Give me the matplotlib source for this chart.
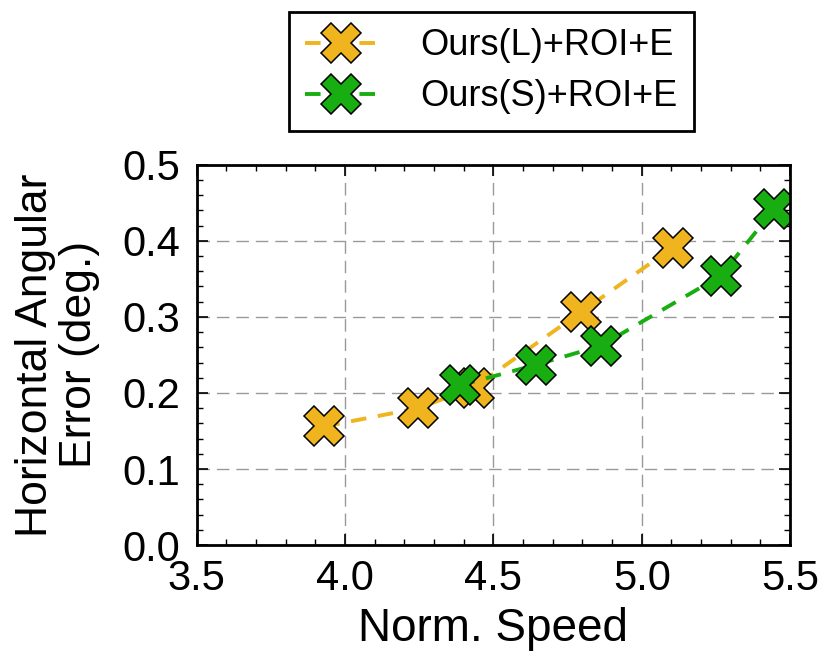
import matplotlib
matplotlib.use("Agg")
import matplotlib.pyplot as plt
from matplotlib.ticker import MultipleLocator

plt.rcParams['font.family'] = ['Liberation Sans', 'DejaVu Sans']

# Ours(L)+ROI+E
speed_l = [3.93, 4.247, 4.433, 4.794, 5.104]
err_l = [0.156, 0.180, 0.207, 0.306, 0.391]
# Ours(S)+ROI+E
speed_s = [4.386, 4.644, 4.862, 5.266, 5.447]
err_s = [0.210, 0.237, 0.262, 0.354, 0.442]

labels = ['Ours(L)+ROI+E', 'Ours(S)+ROI+E']
colors = ['#EFB41E', '#18AE12']

fig = plt.figure(figsize=(8.3, 6.64), dpi=100)
ax = fig.add_axes([0.237, 0.179, 0.715, 0.573])

for xs, ys, lab, col in [(speed_l, err_l, labels[0], colors[0]),
                         (speed_s, err_s, labels[1], colors[1])]:
    ax.plot(xs, ys, linestyle='--', color=col, linewidth=2.8, dashes=(4, 3),
            marker='X', markersize=29, markerfacecolor=col,
            markeredgecolor='black', markeredgewidth=1.1, label=lab)

ax.set_xlim(3.5, 5.5)
ax.set_ylim(0.0, 0.5)
ax.xaxis.set_major_locator(MultipleLocator(0.5))
ax.xaxis.set_minor_locator(MultipleLocator(0.1))
ax.yaxis.set_major_locator(MultipleLocator(0.1))
ax.yaxis.set_minor_locator(MultipleLocator(0.02))
ax.tick_params(which='both', direction='in', top=True, right=True, labelsize=30)
ax.tick_params(axis='y', pad=12)
ax.tick_params(axis='x', pad=10)
ax.tick_params(which='major', length=8, width=1.2)
ax.tick_params(which='minor', length=4, width=1.0)
ax.grid(True, which='major', color='#999999', linestyle=(0, (9, 5)), linewidth=1.0)
for sp in ax.spines.values():
    sp.set_linewidth(2.0)

ax.set_xlabel('Norm. Speed', fontsize=33, labelpad=6)
ax.set_ylabel('Horizontal Angular\nError (deg.)', fontsize=32, linespacing=1.1, labelpad=16)

# legend sits above the axes
leg = fig.legend(loc='upper center', bbox_to_anchor=(0.592, 0.982), fontsize=26,
                 frameon=True, fancybox=False, framealpha=1, edgecolor='black',
                 handlelength=2.0, borderpad=0.45, labelspacing=0.45,
                 handletextpad=1.2, borderaxespad=0)
leg.get_frame().set_linewidth(2.0)

fig.savefig('out.png', dpi=100)
